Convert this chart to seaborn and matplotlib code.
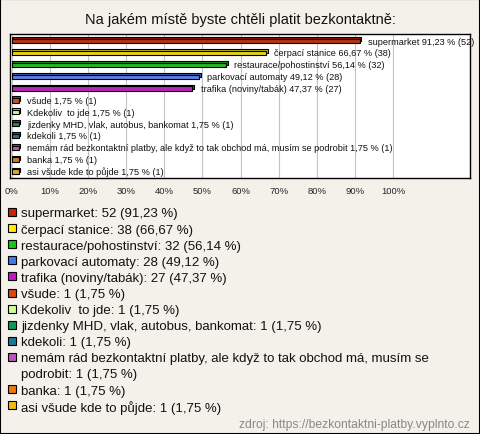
import textwrap

import matplotlib
matplotlib.use("Agg")
import matplotlib.pyplot as plt
from matplotlib.patches import Rectangle
import numpy as np
import pandas as pd
import seaborn as sns

# data
categories = [
    "supermarket",
    "čerpací stanice",
    "restaurace/pohostinství",
    "parkovací automaty",
    "trafika (noviny/tabák)",
    "všude",
    "Kdekoliv  to jde",
    "jizdenky MHD, vlak, autobus, bankomat",
    "kdekoli",
    "nemám rád bezkontaktní platby, ale když to tak obchod má, musím se podrobit",
    "banka",
    "asi všude kde to půjde",
]
counts = [52, 38, 32, 28, 27, 1, 1, 1, 1, 1, 1, 1]
percents = [91.23, 66.67, 56.14, 49.12, 47.37, 1.75, 1.75, 1.75, 1.75, 1.75, 1.75, 1.75]
colors = [
    "#cc2200", "#ffee00", "#11cc11", "#4477ee", "#cc11cc", "#dd4411",
    "#ccff99", "#119955", "#227799", "#bb55bb", "#ee7711", "#eebb11",
]
x_ticks = list(range(0, 101, 10))
tick_labels = [f"{t}%" for t in x_ticks]

title = "Na jakém místě byste chtěli platit bezkontaktně:"
source = "zdroj: https://bezkontaktni-platby.vyplnto.cz"

def fmt(v):
    return f"{v:.2f}".replace(".", ",")

df = pd.DataFrame({"cat": categories, "pct": percents, "n": counts})

sns.set_theme(style="white")
plt.rcParams["font.family"] = ["Liberation Sans", "DejaVu Sans"]

bg = "#f3f1ea"
fig = plt.figure(figsize=(4.8, 4.35), dpi=100, facecolor=bg)
ax = fig.add_axes([10 / 480, 1 - 179 / 435, 460 / 480, 144 / 435])
ax.set_facecolor("white")

# depth of the pseudo 3D bars
ypos = np.arange(len(categories))
dark = [tuple(c * 0.75 for c in matplotlib.colors.to_rgb(col)) for col in colors]
ax.barh(ypos - 0.15, df["pct"] + 0.5, height=0.36, left=0.0, color=dark,
        edgecolor="black", linewidth=0.8, zorder=2)
sns.barplot(data=df, x="pct", y="cat", hue="cat", palette=colors, legend=False,
            orient="h", width=0.36, edgecolor="black", linewidth=0.8, ax=ax,
            zorder=3)

for i, row in df.iterrows():
    ax.annotate(f"{row['cat']} {fmt(row['pct'])} % ({row['n']})",
                xy=(row["pct"], i), xytext=(6, 0), textcoords="offset points",
                va="center", ha="left", fontsize=6.6, color="#111111", zorder=4)

ax.set_xlim(-0.5, 120.2)
ax.set_ylim(len(categories) - 0.45, -0.6)
ax.set_xticks(x_ticks)
ax.set_xticklabels(tick_labels, fontsize=6.8)
ax.tick_params(axis="x", length=0, pad=6)
ax.set_yticks([])
ax.set_xlabel("")
ax.set_ylabel("")
ax.grid(axis="x", color="#c4c4c4", linewidth=0.8, zorder=0)
ax.set_axisbelow(True)
for s in ax.spines.values():
    s.set_color("black")
    s.set_linewidth(1)

fig.text(0.5, 1 - 20 / 435, title, ha="center", va="center", fontsize=10.5,
         color="#111111")

# legend below the chart, one text per line so wrapped lines keep the pitch
line_h = 16.1
y0 = 213
line = 0
for cat, n, p, col in zip(categories, counts, percents, colors):
    parts = textwrap.wrap(f"{cat}: {n} ({fmt(p)} %)", width=70)
    yc = y0 + line * line_h
    fig.patches.append(Rectangle((8 / 480, 1 - (yc + 4) / 435), 8 / 480, 8 / 435,
                                 transform=fig.transFigure, facecolor=col,
                                 edgecolor="black", linewidth=0.8))
    for k, txt in enumerate(parts):
        fig.text(21 / 480, 1 - (yc + k * line_h) / 435, txt, ha="left",
                 va="center_baseline", fontsize=9.5, color="#111111")
    line += len(parts)

fig.text(470 / 480, 1 - 425 / 435, source, ha="right", va="center",
         fontsize=8.7, color="#888888")

fig.patches.append(Rectangle((0, 0), 1, 1, transform=fig.transFigure,
                             fill=False, edgecolor="black", linewidth=1.5))

fig.savefig("out.png", dpi=100, facecolor=bg)
